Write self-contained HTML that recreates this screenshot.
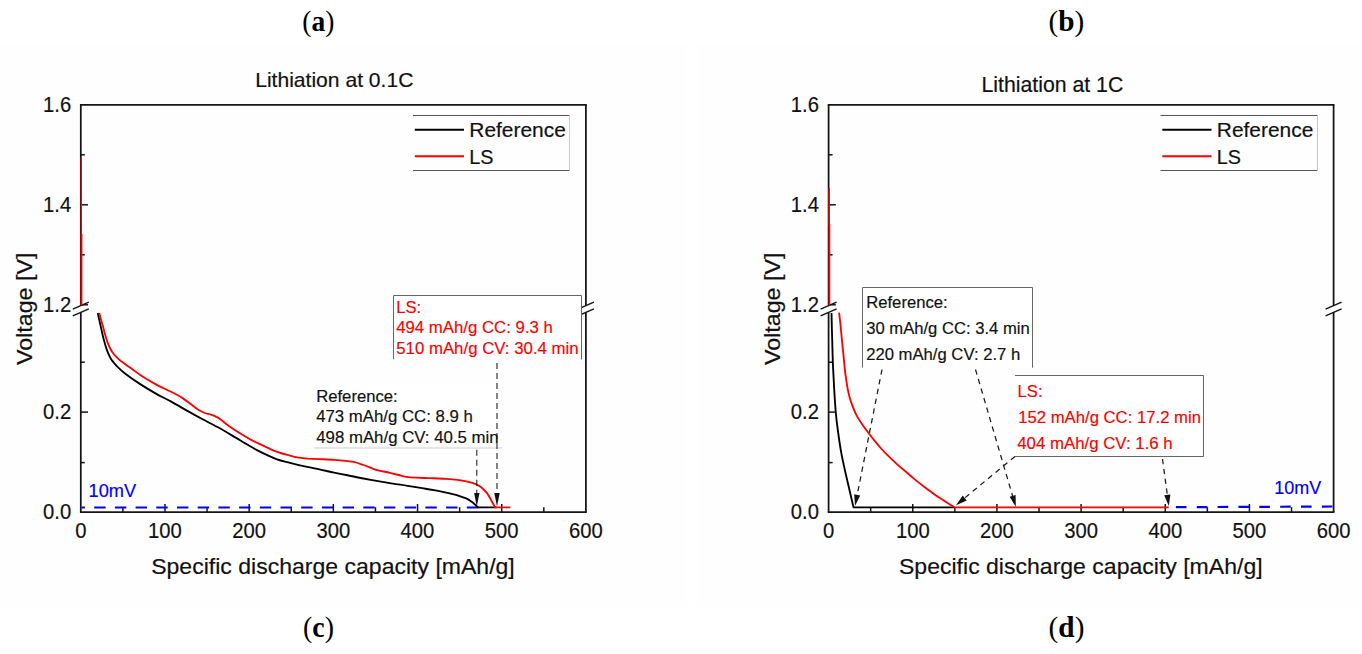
<!DOCTYPE html>
<html><head><meta charset="utf-8"><title>Figure</title>
<style>
html,body{margin:0;padding:0;background:#ffffff;}
body{width:1362px;height:654px;overflow:hidden;}
svg{display:block;}
text{font-family:"Liberation Sans", sans-serif;}
.ser{font-family:"Liberation Serif", serif;}
</style></head><body>
<svg width="1362" height="654" viewBox="0 0 1362 654">
<rect x="0" y="0" width="1362" height="654" fill="#ffffff"/>
<rect x="0" y="45.5" width="686" height="561.5" fill="#fefefe"/>
<rect x="698" y="45.5" width="664" height="561.5" fill="#fefefe"/>

<text class="ser" transform="translate(318.4,30.8) scale(0.95,1)" font-size="29" fill="#000" text-anchor="middle">(<tspan font-weight="bold">a</tspan>)</text>
<text class="ser" transform="translate(1066.4,30.8) scale(1.01,1)" font-size="29" fill="#000" text-anchor="middle">(<tspan font-weight="bold">b</tspan>)</text>
<text class="ser" transform="translate(318.5,637.3) scale(0.96,1)" font-size="29" fill="#000" text-anchor="middle">(<tspan font-weight="bold">c</tspan>)</text>
<text class="ser" transform="translate(1066.5,637.3) scale(1.01,1)" font-size="29" fill="#000" text-anchor="middle">(<tspan font-weight="bold">d</tspan>)</text>
<line x1="79.925" y1="104.8" x2="586.775" y2="104.8" stroke="#141414" stroke-width="1.75"/>
<line x1="79.925" y1="512.0" x2="586.775" y2="512.0" stroke="#141414" stroke-width="1.75"/>
<line x1="80.8" y1="104.8" x2="80.8" y2="305.6" stroke="#141414" stroke-width="1.75"/>
<line x1="80.8" y1="312.4" x2="80.8" y2="512.0" stroke="#141414" stroke-width="1.75"/>
<line x1="72.8" y1="309.1" x2="88.8" y2="302.1" stroke="#141414" stroke-width="1.5"/>
<line x1="72.8" y1="315.9" x2="88.8" y2="308.9" stroke="#141414" stroke-width="1.5"/>
<line x1="585.9" y1="104.8" x2="585.9" y2="305.6" stroke="#141414" stroke-width="1.75"/>
<line x1="585.9" y1="312.4" x2="585.9" y2="512.0" stroke="#141414" stroke-width="1.75"/>
<line x1="577.9" y1="309.1" x2="593.9" y2="302.1" stroke="#141414" stroke-width="1.5"/>
<line x1="577.9" y1="315.9" x2="593.9" y2="308.9" stroke="#141414" stroke-width="1.5"/>
<line x1="80.8" y1="204.8" x2="88.0" y2="204.8" stroke="#141414" stroke-width="1.5"/>
<line x1="80.8" y1="154.8" x2="84.8" y2="154.8" stroke="#141414" stroke-width="1.5"/>
<line x1="80.8" y1="254.8" x2="84.8" y2="254.8" stroke="#141414" stroke-width="1.5"/>
<line x1="80.8" y1="304.8" x2="88.0" y2="304.8" stroke="#141414" stroke-width="1.5"/>
<line x1="80.8" y1="412.1" x2="88.0" y2="412.1" stroke="#141414" stroke-width="1.5"/>
<line x1="80.8" y1="462.6" x2="84.8" y2="462.6" stroke="#141414" stroke-width="1.5"/>
<line x1="80.8" y1="362.2" x2="84.8" y2="362.2" stroke="#141414" stroke-width="1.5"/>
<line x1="122.89" y1="512.0" x2="122.89" y2="507.2" stroke="#141414" stroke-width="1.5"/>
<line x1="164.98" y1="512.0" x2="164.98" y2="504.0" stroke="#141414" stroke-width="1.5"/>
<line x1="207.07" y1="512.0" x2="207.07" y2="507.2" stroke="#141414" stroke-width="1.5"/>
<line x1="249.17" y1="512.0" x2="249.17" y2="504.0" stroke="#141414" stroke-width="1.5"/>
<line x1="291.26" y1="512.0" x2="291.26" y2="507.2" stroke="#141414" stroke-width="1.5"/>
<line x1="333.35" y1="512.0" x2="333.35" y2="504.0" stroke="#141414" stroke-width="1.5"/>
<line x1="375.44" y1="512.0" x2="375.44" y2="507.2" stroke="#141414" stroke-width="1.5"/>
<line x1="417.53" y1="512.0" x2="417.53" y2="504.0" stroke="#141414" stroke-width="1.5"/>
<line x1="459.62" y1="512.0" x2="459.62" y2="507.2" stroke="#141414" stroke-width="1.5"/>
<line x1="501.72" y1="512.0" x2="501.72" y2="504.0" stroke="#141414" stroke-width="1.5"/>
<line x1="543.81" y1="512.0" x2="543.81" y2="507.2" stroke="#141414" stroke-width="1.5"/>
<text transform="translate(80.8,538.0) scale(0.92,1)" font-size="22" fill="#111111" text-anchor="middle" stroke="#111111" stroke-width="0.18" >0</text>
<text transform="translate(165.0,538.0) scale(0.92,1)" font-size="22" fill="#111111" text-anchor="middle" stroke="#111111" stroke-width="0.18" >100</text>
<text transform="translate(249.2,538.0) scale(0.92,1)" font-size="22" fill="#111111" text-anchor="middle" stroke="#111111" stroke-width="0.18" >200</text>
<text transform="translate(333.3,538.0) scale(0.92,1)" font-size="22" fill="#111111" text-anchor="middle" stroke="#111111" stroke-width="0.18" >300</text>
<text transform="translate(417.5,538.0) scale(0.92,1)" font-size="22" fill="#111111" text-anchor="middle" stroke="#111111" stroke-width="0.18" >400</text>
<text transform="translate(501.7,538.0) scale(0.92,1)" font-size="22" fill="#111111" text-anchor="middle" stroke="#111111" stroke-width="0.18" >500</text>
<text transform="translate(585.9,538.0) scale(0.92,1)" font-size="22" fill="#111111" text-anchor="middle" stroke="#111111" stroke-width="0.18" >600</text>
<text transform="translate(71.2,112.1) scale(0.92,1)" font-size="22" fill="#111111" text-anchor="end" stroke="#111111" stroke-width="0.18" >1.6</text>
<text transform="translate(71.2,212.10000000000002) scale(0.92,1)" font-size="22" fill="#111111" text-anchor="end" stroke="#111111" stroke-width="0.18" >1.4</text>
<text transform="translate(71.2,312.1) scale(0.92,1)" font-size="22" fill="#111111" text-anchor="end" stroke="#111111" stroke-width="0.18" >1.2</text>
<text transform="translate(71.2,418.5) scale(0.92,1)" font-size="22" fill="#111111" text-anchor="end" stroke="#111111" stroke-width="0.18" >0.2</text>
<text transform="translate(71.2,518.9) scale(0.92,1)" font-size="22" fill="#111111" text-anchor="end" stroke="#111111" stroke-width="0.18" >0.0</text>
<text x="333.0" y="573.8" font-size="21.6" fill="#111111" text-anchor="middle" textLength="363.6" lengthAdjust="spacingAndGlyphs" stroke="#111111" stroke-width="0.18" >Specific discharge capacity [mAh/g]</text>
<text transform="translate(32.2,308.8) rotate(-90)" font-size="21.4" fill="#111111" stroke="#111111" stroke-width="0.18" text-anchor="middle" textLength="112.4" lengthAdjust="spacingAndGlyphs">Voltage [V]</text>
<text x="334.3" y="87.3" font-size="20.4" fill="#111111" text-anchor="middle" textLength="158.2" lengthAdjust="spacingAndGlyphs" stroke="#111111" stroke-width="0.18" >Lithiation at 0.1C</text>
<line x1="81.6" y1="507.4" x2="479" y2="507.4" stroke="#0000ff" stroke-width="1.95" stroke-dasharray="11.4 9.3" stroke-dashoffset="8.10"/>
<text x="88.6" y="496.6" font-size="18" fill="#0000ff" text-anchor="start" textLength="47.6" lengthAdjust="spacingAndGlyphs" stroke="#0000ff" stroke-width="0.18" >10mV</text>
<path d="M97.8,313.0 C98.1,314.2 98.8,317.9 99.4,320.5 C100.0,323.1 100.6,325.9 101.2,328.6 C101.8,331.3 102.4,333.9 103.0,336.5 C103.6,339.1 104.4,341.7 105.0,343.9 C105.6,346.1 106.2,347.8 106.8,349.6 C107.4,351.4 108.1,353.1 108.8,354.6 C109.5,356.2 110.2,357.6 111.0,358.9 C111.8,360.2 112.5,361.1 113.6,362.4 C114.7,363.7 115.6,364.9 117.6,366.8 C119.5,368.7 121.5,370.8 125.3,373.7 C129.1,376.6 135.5,381.1 140.6,384.4 C145.7,387.7 150.8,390.7 155.9,393.6 C161.0,396.5 166.1,398.8 171.2,401.6 C176.3,404.4 181.4,407.5 186.5,410.4 C191.6,413.3 196.6,416.1 201.7,418.8 C206.8,421.5 211.9,424.0 217.0,426.8 C222.1,429.6 227.2,432.6 232.3,435.6 C237.4,438.6 243.5,442.4 247.6,444.8 C251.7,447.2 253.7,448.4 256.8,450.0 C259.9,451.6 262.8,453.1 266.2,454.7 C269.6,456.2 273.0,457.9 277.0,459.3 C281.0,460.7 285.4,461.6 290.0,462.8 C294.6,464.0 299.8,465.3 304.7,466.4 C309.6,467.5 314.5,468.4 319.4,469.4 C324.3,470.4 329.2,471.6 334.1,472.6 C339.0,473.6 343.8,474.5 348.7,475.5 C353.6,476.5 358.5,477.6 363.4,478.5 C368.3,479.4 373.2,480.2 378.1,481.1 C383.0,482.0 387.9,482.8 392.8,483.6 C397.7,484.4 402.6,485.0 407.5,485.8 C412.4,486.6 417.3,487.4 422.2,488.2 C427.1,489.0 432.4,489.9 436.8,490.7 C441.2,491.5 444.9,492.3 448.6,493.2 C452.3,494.1 456.0,494.9 458.9,495.8 C461.8,496.7 464.0,497.4 466.2,498.4 C468.4,499.4 470.5,500.9 472.1,502.0 C473.7,503.1 474.8,504.4 475.8,505.3 C476.8,506.2 477.6,507.0 478.0,507.3 L496.5,507.3" fill="none" stroke="#000" stroke-width="1.85" stroke-linejoin="round"/>
<path d="M99.3,313.0 C99.6,314.1 100.3,317.4 100.9,319.5 C101.5,321.6 102.1,323.4 102.7,325.6 C103.3,327.8 104.0,330.5 104.6,332.8 C105.2,335.1 105.9,337.4 106.5,339.3 C107.1,341.2 107.7,342.8 108.3,344.3 C108.9,345.8 109.6,347.2 110.3,348.5 C111.0,349.8 111.6,351.1 112.4,352.2 C113.2,353.3 113.8,354.2 114.9,355.4 C116.0,356.6 117.5,358.1 119.2,359.6 C120.9,361.1 123.2,362.6 125.3,364.2 C127.4,365.8 129.4,367.1 132.0,368.9 C134.6,370.7 136.6,372.6 140.6,375.2 C144.6,377.8 150.8,381.6 155.9,384.4 C161.0,387.2 166.9,389.6 171.2,391.8 C175.5,394.0 178.6,395.5 181.9,397.6 C185.2,399.7 188.2,402.2 191.0,404.3 C193.8,406.4 196.4,408.6 198.7,410.0 C201.0,411.4 202.8,412.2 204.8,413.0 C206.8,413.8 208.9,413.9 210.9,414.6 C212.9,415.3 215.2,416.2 217.0,417.2 C218.8,418.1 219.5,418.8 221.6,420.3 C223.7,421.8 226.2,424.0 229.3,426.2 C232.4,428.4 236.4,431.1 240.0,433.3 C243.6,435.5 247.4,437.8 250.7,439.6 C254.0,441.4 255.6,442.1 260.0,444.2 C264.4,446.2 272.2,450.0 277.2,451.9 C282.2,453.8 286.4,454.7 290.0,455.6 C293.6,456.6 295.9,457.1 298.8,457.6 C301.7,458.1 304.2,458.4 307.6,458.7 C311.0,458.9 315.0,458.9 319.4,459.1 C323.8,459.3 329.7,459.5 334.1,459.8 C338.5,460.1 342.4,460.5 345.8,460.9 C349.2,461.3 351.7,461.5 354.6,462.2 C357.5,462.9 360.5,464.0 363.4,465.0 C366.3,466.0 369.8,467.5 372.2,468.4 C374.6,469.3 375.2,469.7 378.1,470.4 C381.1,471.1 386.5,472.0 389.9,472.8 C393.3,473.6 396.0,474.3 398.7,475.0 C401.4,475.7 403.1,476.4 406.0,476.8 C408.9,477.2 412.1,477.5 416.3,477.7 C420.5,477.9 426.1,478.0 431.0,478.2 C435.9,478.4 441.3,478.6 445.7,478.9 C450.1,479.2 454.0,479.5 457.4,479.9 C460.8,480.3 463.3,480.7 466.2,481.4 C469.1,482.1 472.6,483.0 475.0,483.9 C477.4,484.8 478.9,485.5 480.9,487.0 C482.9,488.5 485.3,491.1 486.8,492.9 C488.3,494.7 489.0,496.3 490.0,498.0 C491.0,499.7 491.9,501.8 492.8,503.3 C493.7,504.9 494.8,506.6 495.2,507.3 L510.3,507.3" fill="none" stroke="#ff0000" stroke-width="1.85" stroke-linejoin="round"/>
<line x1="81.3" y1="157.8" x2="81.3" y2="235" stroke="#ff0000" stroke-width="1.4"/><line x1="81.5" y1="234" x2="81.5" y2="305.4" stroke="#ff0000" stroke-width="1.9"/>
<line x1="413" y1="115.5" x2="569.5" y2="115.5" stroke="#555" stroke-width="1"/>
<line x1="413" y1="170.5" x2="569.5" y2="170.5" stroke="#555" stroke-width="1"/>
<line x1="569.5" y1="115.5" x2="569.5" y2="170.5" stroke="#c8c8c8" stroke-width="1"/>
<line x1="414.8" y1="129.8" x2="464" y2="129.8" stroke="#000" stroke-width="1.9"/>
<line x1="414.8" y1="156.2" x2="464" y2="156.2" stroke="#ff0000" stroke-width="1.9"/>
<text x="469.3" y="137.2" font-size="19.8" fill="#111111" text-anchor="start" textLength="96.5" lengthAdjust="spacingAndGlyphs" stroke="#111111" stroke-width="0.18" >Reference</text>
<text x="469.3" y="163.6" font-size="19.8" fill="#111111" text-anchor="start" stroke="#111111" stroke-width="0.18" >LS</text>
<rect x="393.5" y="295.5" width="188.0" height="63.80000000000001" fill="#fff" stroke="none"/>
<polyline points="393.5,359.3 393.5,295.5 581.5,295.5 581.5,359.3" fill="none" stroke="#666666" stroke-width="1"/>
<text x="396.2" y="312.6" font-size="16.6" fill="#ff0000" text-anchor="start" stroke="#ff0000" stroke-width="0.18" >LS:</text>
<text x="396.2" y="333.2" font-size="16.6" fill="#ff0000" text-anchor="start" textLength="156.7" lengthAdjust="spacingAndGlyphs" stroke="#ff0000" stroke-width="0.18" >494 mAh/g CC: 9.3 h</text>
<text x="396.2" y="353.8" font-size="16.6" fill="#ff0000" text-anchor="start" textLength="182.5" lengthAdjust="spacingAndGlyphs" stroke="#ff0000" stroke-width="0.18" >510 mAh/g CV: 30.4 min</text>
<rect x="314" y="383" width="186" height="64" fill="#fff" stroke="none"/>
<line x1="314" y1="448.0" x2="502" y2="448.0" stroke="#cfcfcf" stroke-width="1"/>
<text x="316.2" y="401.9" font-size="16.6" fill="#111111" text-anchor="start" textLength="81.5" lengthAdjust="spacingAndGlyphs" stroke="#111111" stroke-width="0.18" >Reference:</text>
<text x="316.2" y="422.2" font-size="16.6" fill="#111111" text-anchor="start" textLength="156.7" lengthAdjust="spacingAndGlyphs" stroke="#111111" stroke-width="0.18" >473 mAh/g CC: 8.9 h</text>
<text x="316.2" y="442.6" font-size="16.6" fill="#111111" text-anchor="start" textLength="182.5" lengthAdjust="spacingAndGlyphs" stroke="#111111" stroke-width="0.18" >498 mAh/g CV: 40.5 min</text>
<line x1="476.8" y1="449.8" x2="476.8" y2="492.9" stroke="#1a1a1a" stroke-width="1.05" stroke-dasharray="6 4"/>
<polygon points="476.8,506.4 474.1,492.9 479.5,492.9" fill="#111"/>
<line x1="497.0" y1="363.0" x2="497.0" y2="492.9" stroke="#1a1a1a" stroke-width="1.05" stroke-dasharray="6 4"/>
<polygon points="497.0,506.4 494.3,492.9 499.7,492.9" fill="#111"/>
<line x1="827.725" y1="104.8" x2="1334.475" y2="104.8" stroke="#141414" stroke-width="1.75"/>
<line x1="827.725" y1="512.0" x2="1334.475" y2="512.0" stroke="#141414" stroke-width="1.75"/>
<line x1="828.6" y1="104.8" x2="828.6" y2="305.6" stroke="#141414" stroke-width="1.75"/>
<line x1="828.6" y1="312.4" x2="828.6" y2="512.0" stroke="#141414" stroke-width="1.75"/>
<line x1="820.6" y1="309.1" x2="836.6" y2="302.1" stroke="#141414" stroke-width="1.5"/>
<line x1="820.6" y1="315.9" x2="836.6" y2="308.9" stroke="#141414" stroke-width="1.5"/>
<line x1="1333.6" y1="104.8" x2="1333.6" y2="305.6" stroke="#141414" stroke-width="1.75"/>
<line x1="1333.6" y1="312.4" x2="1333.6" y2="512.0" stroke="#141414" stroke-width="1.75"/>
<line x1="1325.6" y1="309.1" x2="1341.6" y2="302.1" stroke="#141414" stroke-width="1.5"/>
<line x1="1325.6" y1="315.9" x2="1341.6" y2="308.9" stroke="#141414" stroke-width="1.5"/>
<line x1="828.6" y1="204.8" x2="835.8000000000001" y2="204.8" stroke="#141414" stroke-width="1.5"/>
<line x1="828.6" y1="154.8" x2="832.6" y2="154.8" stroke="#141414" stroke-width="1.5"/>
<line x1="828.6" y1="254.8" x2="832.6" y2="254.8" stroke="#141414" stroke-width="1.5"/>
<line x1="828.6" y1="304.8" x2="835.8000000000001" y2="304.8" stroke="#141414" stroke-width="1.5"/>
<line x1="828.6" y1="412.1" x2="835.8000000000001" y2="412.1" stroke="#141414" stroke-width="1.5"/>
<line x1="828.6" y1="462.6" x2="832.6" y2="462.6" stroke="#141414" stroke-width="1.5"/>
<line x1="828.6" y1="362.2" x2="832.6" y2="362.2" stroke="#141414" stroke-width="1.5"/>
<line x1="870.68" y1="512.0" x2="870.68" y2="507.2" stroke="#141414" stroke-width="1.5"/>
<line x1="912.77" y1="512.0" x2="912.77" y2="504.0" stroke="#141414" stroke-width="1.5"/>
<line x1="954.85" y1="512.0" x2="954.85" y2="507.2" stroke="#141414" stroke-width="1.5"/>
<line x1="996.93" y1="512.0" x2="996.93" y2="504.0" stroke="#141414" stroke-width="1.5"/>
<line x1="1039.02" y1="512.0" x2="1039.02" y2="507.2" stroke="#141414" stroke-width="1.5"/>
<line x1="1081.10" y1="512.0" x2="1081.10" y2="504.0" stroke="#141414" stroke-width="1.5"/>
<line x1="1123.18" y1="512.0" x2="1123.18" y2="507.2" stroke="#141414" stroke-width="1.5"/>
<line x1="1165.27" y1="512.0" x2="1165.27" y2="504.0" stroke="#141414" stroke-width="1.5"/>
<line x1="1207.35" y1="512.0" x2="1207.35" y2="507.2" stroke="#141414" stroke-width="1.5"/>
<line x1="1249.43" y1="512.0" x2="1249.43" y2="504.0" stroke="#141414" stroke-width="1.5"/>
<line x1="1291.52" y1="512.0" x2="1291.52" y2="507.2" stroke="#141414" stroke-width="1.5"/>
<text transform="translate(828.6,538.0) scale(0.92,1)" font-size="22" fill="#111111" text-anchor="middle" stroke="#111111" stroke-width="0.18" >0</text>
<text transform="translate(912.8,538.0) scale(0.92,1)" font-size="22" fill="#111111" text-anchor="middle" stroke="#111111" stroke-width="0.18" >100</text>
<text transform="translate(996.9,538.0) scale(0.92,1)" font-size="22" fill="#111111" text-anchor="middle" stroke="#111111" stroke-width="0.18" >200</text>
<text transform="translate(1081.1,538.0) scale(0.92,1)" font-size="22" fill="#111111" text-anchor="middle" stroke="#111111" stroke-width="0.18" >300</text>
<text transform="translate(1165.3,538.0) scale(0.92,1)" font-size="22" fill="#111111" text-anchor="middle" stroke="#111111" stroke-width="0.18" >400</text>
<text transform="translate(1249.4,538.0) scale(0.92,1)" font-size="22" fill="#111111" text-anchor="middle" stroke="#111111" stroke-width="0.18" >500</text>
<text transform="translate(1333.6,538.0) scale(0.92,1)" font-size="22" fill="#111111" text-anchor="middle" stroke="#111111" stroke-width="0.18" >600</text>
<text transform="translate(819.0,112.1) scale(0.92,1)" font-size="22" fill="#111111" text-anchor="end" stroke="#111111" stroke-width="0.18" >1.6</text>
<text transform="translate(819.0,212.10000000000002) scale(0.92,1)" font-size="22" fill="#111111" text-anchor="end" stroke="#111111" stroke-width="0.18" >1.4</text>
<text transform="translate(819.0,312.1) scale(0.92,1)" font-size="22" fill="#111111" text-anchor="end" stroke="#111111" stroke-width="0.18" >1.2</text>
<text transform="translate(819.0,418.5) scale(0.92,1)" font-size="22" fill="#111111" text-anchor="end" stroke="#111111" stroke-width="0.18" >0.2</text>
<text transform="translate(819.0,518.9) scale(0.92,1)" font-size="22" fill="#111111" text-anchor="end" stroke="#111111" stroke-width="0.18" >0.0</text>
<text x="1080.8" y="573.8" font-size="21.6" fill="#111111" text-anchor="middle" textLength="363.6" lengthAdjust="spacingAndGlyphs" stroke="#111111" stroke-width="0.18" >Specific discharge capacity [mAh/g]</text>
<text transform="translate(780.0,308.8) rotate(-90)" font-size="21.4" fill="#111111" stroke="#111111" stroke-width="0.18" text-anchor="middle" textLength="112.4" lengthAdjust="spacingAndGlyphs">Voltage [V]</text>
<text x="1052.4" y="91.6" font-size="21.3" fill="#111111" text-anchor="middle" textLength="141.8" lengthAdjust="spacingAndGlyphs" stroke="#111111" stroke-width="0.18" >Lithiation at 1C</text>
<line x1="1160.5" y1="115.5" x2="1317.5" y2="115.5" stroke="#555" stroke-width="1"/>
<line x1="1160.5" y1="170.5" x2="1317.5" y2="170.5" stroke="#555" stroke-width="1"/>
<line x1="1317.5" y1="115.5" x2="1317.5" y2="170.5" stroke="#c8c8c8" stroke-width="1"/>
<line x1="1162.3" y1="129.8" x2="1211.5" y2="129.8" stroke="#000" stroke-width="1.9"/>
<line x1="1162.3" y1="156.2" x2="1211.5" y2="156.2" stroke="#ff0000" stroke-width="1.9"/>
<text x="1216.8" y="137.2" font-size="19.8" fill="#111111" text-anchor="start" textLength="96.5" lengthAdjust="spacingAndGlyphs" stroke="#111111" stroke-width="0.18" >Reference</text>
<text x="1216.8" y="163.6" font-size="19.8" fill="#111111" text-anchor="start" stroke="#111111" stroke-width="0.18" >LS</text>
<line x1="1175.9" y1="507.2" x2="1333.0" y2="506.5" stroke="#0000ff" stroke-width="2.2" stroke-dasharray="10.6 10.25"/>
<text x="1274.3" y="493.6" font-size="18" fill="#0000ff" text-anchor="start" textLength="47" lengthAdjust="spacingAndGlyphs" stroke="#0000ff" stroke-width="0.18" >10mV</text>
<path d="M831.5,313.0 C831.6,317.5 831.9,330.5 832.2,340.0 C832.5,349.5 832.6,358.1 833.2,370.0 C833.8,381.9 834.8,400.8 835.7,411.6 C836.6,422.4 837.5,427.7 838.5,435.0 C839.5,442.3 840.3,447.9 841.8,455.6 C843.3,463.4 845.5,472.9 847.5,481.5 C849.5,490.1 852.5,503.0 853.5,507.3 L955,507.3" fill="none" stroke="#000" stroke-width="1.85" stroke-linejoin="round"/>
<path d="M839.1,312.6 C839.3,314.3 839.9,319.4 840.3,323.0 C840.7,326.6 841.0,330.6 841.4,334.4 C841.8,338.2 842.1,342.1 842.5,345.9 C842.9,349.7 843.3,353.6 843.7,357.4 C844.1,361.2 844.4,365.4 844.8,368.9 C845.2,372.3 845.5,374.9 846.0,378.1 C846.5,381.4 847.0,385.3 847.6,388.4 C848.2,391.4 848.6,393.5 849.4,396.4 C850.2,399.3 851.2,402.5 852.4,405.6 C853.5,408.7 854.7,411.7 856.3,414.8 C857.9,417.9 860.1,421.2 862.1,424.2 C864.1,427.2 866.3,430.1 868.4,432.8 C870.5,435.5 872.4,438.0 874.5,440.6 C876.6,443.2 878.8,445.9 881.1,448.5 C883.4,451.1 886.0,453.8 888.5,456.2 C891.0,458.6 893.4,460.9 895.8,463.1 C898.2,465.3 900.6,467.3 903.1,469.4 C905.6,471.5 908.0,473.6 910.5,475.7 C913.0,477.8 915.3,479.9 917.8,481.9 C920.2,483.8 922.8,485.6 925.2,487.4 C927.7,489.2 930.0,491.1 932.5,492.9 C935.0,494.7 937.4,496.4 939.9,498.0 C942.4,499.6 944.8,501.2 947.2,502.8 C949.6,504.4 953.3,506.6 954.5,507.3 L1168.7,507.3" fill="none" stroke="#ff0000" stroke-width="1.85" stroke-linejoin="round"/>
<line x1="829.15" y1="187.9" x2="829.15" y2="225" stroke="#ff0000" stroke-width="1.55"/><line x1="829.4" y1="224" x2="829.4" y2="305.4" stroke="#ff0000" stroke-width="1.8"/>
<rect x="862.5" y="287.5" width="170.0" height="80.10000000000002" fill="#fff" stroke="none"/>
<polyline points="862.5,367.6 862.5,287.5 1032.5,287.5 1032.5,367.6" fill="none" stroke="#666666" stroke-width="1"/>
<text x="866.2" y="308.2" font-size="16.6" fill="#111111" text-anchor="start" textLength="81.5" lengthAdjust="spacingAndGlyphs" stroke="#111111" stroke-width="0.18" >Reference:</text>
<text x="866.2" y="334.3" font-size="16.6" fill="#111111" text-anchor="start" textLength="163.5" lengthAdjust="spacingAndGlyphs" stroke="#111111" stroke-width="0.18" >30 mAh/g CC: 3.4 min</text>
<text x="866.2" y="360.2" font-size="16.6" fill="#111111" text-anchor="start" textLength="154" lengthAdjust="spacingAndGlyphs" stroke="#111111" stroke-width="0.18" >220 mAh/g CV: 2.7 h</text>
<rect x="1015.0" y="375.5" width="188.5" height="81.0" fill="#fff" stroke="none"/>
<polyline points="1015.0,375.5 1203.5,375.5 1203.5,456.5 1015.0,456.5" fill="none" stroke="#666666" stroke-width="1"/>
<text x="1017.6" y="397.2" font-size="16.6" fill="#ff0000" text-anchor="start" stroke="#ff0000" stroke-width="0.18" >LS:</text>
<text x="1018.2" y="423.2" font-size="16.6" fill="#ff0000" text-anchor="start" textLength="182.8" lengthAdjust="spacingAndGlyphs" stroke="#ff0000" stroke-width="0.18" >152 mAh/g CC: 17.2 min</text>
<text x="1017.2" y="449.2" font-size="16.6" fill="#ff0000" text-anchor="start" textLength="155.5" lengthAdjust="spacingAndGlyphs" stroke="#ff0000" stroke-width="0.18" >404 mAh/g CV: 1.6 h</text>
<line x1="882.0" y1="369.5" x2="857.2" y2="494.9" stroke="#1a1a1a" stroke-width="1.25" stroke-dasharray="5.3 4.6"/>
<polygon points="855.0,506.0 854.2,494.3 860.2,495.5" fill="#111"/>
<line x1="975.5" y1="369.5" x2="1012.6" y2="496.0" stroke="#1a1a1a" stroke-width="1.25" stroke-dasharray="5.3 4.6"/>
<polygon points="1015.8,506.8 1009.6,496.8 1015.6,495.1" fill="#111"/>
<line x1="1015.0" y1="456.4" x2="964.7" y2="498.0" stroke="#1a1a1a" stroke-width="1.25" stroke-dasharray="5.3 4.6"/>
<polygon points="956.0,505.2 962.7,495.6 966.7,500.4" fill="#111"/>
<line x1="1162.5" y1="459.0" x2="1167.3" y2="494.8" stroke="#1a1a1a" stroke-width="1.25" stroke-dasharray="5.3 4.6"/>
<polygon points="1168.8,506.0 1164.2,495.2 1170.4,494.4" fill="#111"/>
</svg></body></html>
